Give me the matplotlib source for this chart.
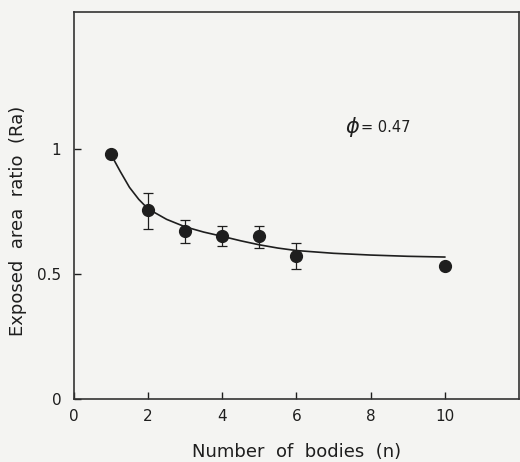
import matplotlib
matplotlib.use("Agg")
import matplotlib.pyplot as plt

# measured points (mean and error bar limits)
n_bodies = [1, 2, 3, 4, 5, 6, 10]
ratio = [0.98, 0.756, 0.674, 0.655, 0.652, 0.572, 0.532]
err_low = [0.0, 0.076, 0.05, 0.043, 0.048, 0.052, 0.0]
err_high = [0.0, 0.068, 0.042, 0.037, 0.04, 0.052, 0.0]

# fitted curve
curve_n = [1, 1.25, 1.5, 1.75, 2, 2.5, 3, 3.5, 4, 4.5, 5, 5.5, 6, 7, 8, 9, 10]
curve_ra = [0.98, 0.912, 0.848, 0.8, 0.762, 0.72, 0.69, 0.669, 0.652, 0.634,
            0.618, 0.605, 0.595, 0.584, 0.577, 0.572, 0.569]

x_ticks = [0, 2, 4, 6, 8, 10]
y_ticks = [0, 0.5, 1]
y_tick_labels = ["0", "0.5", "1"]

bg = "#f4f4f2"
ink = "#1e1e1e"


def main():
    fig = plt.figure(figsize=(5.2, 4.62), dpi=100, facecolor=bg)
    ax = fig.add_axes([0.142, 0.136, 0.856, 0.838], facecolor=bg)

    ax.plot(curve_n, curve_ra, color=ink, lw=1.2, solid_joinstyle="round")
    ax.errorbar(n_bodies, ratio, yerr=[err_low, err_high], fmt="o",
                color=ink, ms=8.5, elinewidth=0.9, capsize=3.5, capthick=0.9)

    ax.text(7.3, 1.09, r"$\phi$", fontsize=15, color=ink, va="center")
    ax.text(7.75, 1.087, "= 0.47", fontsize=10.5, color=ink, va="center")

    ax.set_xlim(0, 12)
    ax.set_ylim(0, 1.55)
    ax.set_xticks(x_ticks)
    ax.set_yticks(y_ticks)
    ax.set_yticklabels(y_tick_labels)
    ax.tick_params(direction="in", length=5, width=1, colors=ink,
                   labelsize=11, pad=7)
    ax.tick_params(axis="y", pad=9)
    for s in ax.spines.values():
        s.set_linewidth(1.2)
        s.set_color("#333333")

    ax.set_xlabel("Number  of  bodies  (n)", fontsize=13, color=ink, labelpad=14)
    ax.set_ylabel("Exposed  area  ratio  (Ra)", fontsize=13, color=ink, labelpad=12)
    ax.yaxis.set_label_coords(-0.105, 0.46)

    fig.savefig("out.png", dpi=100, facecolor=bg)


if __name__ == "__main__":
    main()
